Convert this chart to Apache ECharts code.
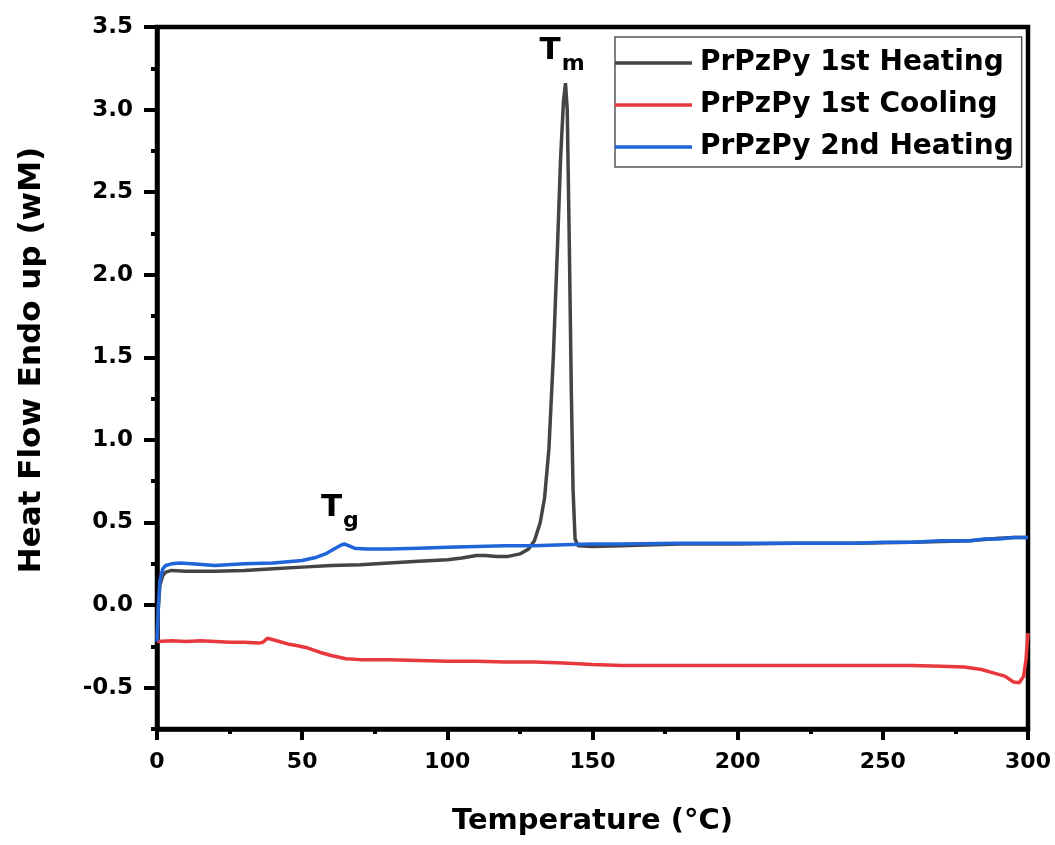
<!DOCTYPE html>
<html>
<head>
<meta charset="utf-8">
<script src="https://cdn.jsdelivr.net/npm/echarts@6/dist/echarts.min.js"></script>
<style>
  html, body { margin: 0; padding: 0; background: #fff; }
  #chart { width: 1055px; height: 845px; }
</style>
</head>
<body>
<div id="chart"></div>
<script>
// 1st heating
const heat1Temp = [0, 0.5, 1, 2, 3, 5, 10, 20, 30, 40, 50, 60, 70, 80, 90, 100, 105, 110, 113, 117, 121, 125, 128, 130, 132, 133.5, 135, 136.5, 138, 139, 140, 140.7, 141.3, 142, 142.7, 143.3, 144, 145, 150, 160, 180, 200, 220, 240, 260, 270, 280, 290, 295, 300];
const heat1Flow = [-0.2, 0.0, 0.12, 0.18, 0.2, 0.21, 0.205, 0.205, 0.21, 0.22, 0.23, 0.24, 0.245, 0.255, 0.265, 0.275, 0.285, 0.3, 0.3, 0.295, 0.295, 0.31, 0.34, 0.39, 0.5, 0.65, 0.95, 1.5, 2.2, 2.7, 3.05, 3.16, 3.0, 2.2, 1.3, 0.7, 0.4, 0.36, 0.355, 0.36, 0.37, 0.37, 0.375, 0.375, 0.38, 0.385, 0.39, 0.405, 0.41, 0.41];

// 1st cooling
const coolTemp = [0, 5, 10, 15, 20, 25, 30, 35, 36.5, 38, 40, 45, 48, 52, 56, 60, 65, 70, 80, 90, 100, 110, 120, 130, 140, 150, 160, 180, 200, 220, 240, 260, 270, 278, 284, 288, 292, 295, 297, 298.5, 299.3, 300];
const coolFlow = [-0.22, -0.215, -0.22, -0.215, -0.22, -0.225, -0.225, -0.23, -0.225, -0.2, -0.21, -0.235, -0.245, -0.26, -0.285, -0.305, -0.325, -0.33, -0.33, -0.335, -0.34, -0.34, -0.345, -0.345, -0.35, -0.36, -0.365, -0.365, -0.365, -0.365, -0.365, -0.365, -0.37, -0.375, -0.39, -0.41, -0.43, -0.465, -0.47, -0.43, -0.33, -0.17];

// 2nd heating
const heat2Temp = [0, 0.5, 1, 2, 3, 5, 8, 12, 20, 30, 40, 50, 55, 58, 61, 63, 64.5, 66, 68, 72, 80, 90, 100, 110, 120, 130, 140, 150, 160, 180, 200, 220, 240, 250, 260, 270, 280, 285, 290, 295, 300];
const heat2Flow = [-0.22, 0.0, 0.15, 0.22, 0.24, 0.25, 0.255, 0.25, 0.24, 0.25, 0.255, 0.27, 0.29, 0.31, 0.34, 0.36, 0.37, 0.36, 0.345, 0.34, 0.34, 0.345, 0.35, 0.355, 0.36, 0.36, 0.365, 0.37, 0.37, 0.375, 0.375, 0.375, 0.375, 0.38, 0.38, 0.39, 0.39, 0.4, 0.4, 0.41, 0.41];

const xTicks = [0, 50, 100, 150, 200, 250, 300];
const yTicks = [-0.5, 0, 0.5, 1, 1.5, 2, 2.5, 3, 3.5];
const seriesNames = ["PrPzPy 1st Heating", "PrPzPy 1st Cooling", "PrPzPy 2nd Heating"];

const pairs = (xs, ys) => xs.map((x, i) => [x, ys[i]]);

const font = "DejaVu Sans";
const chart = echarts.init(document.getElementById("chart"));

const subLabel = (main, sub) => ({
  show: true,
  formatter: "{t|" + main + "}{s|" + sub + "}",
  rich: {
    t: { fontSize: 31, fontWeight: "bold", fontFamily: font, color: "#000", verticalAlign: "bottom", padding: [0, 1, 9, 0] },
    s: { fontSize: 22, fontWeight: "bold", fontFamily: font, color: "#000", verticalAlign: "bottom" },
  },
});

const option = {
  animation: false,
  backgroundColor: "#fff",
  grid: {
    left: 157, right: 27, top: 27, bottom: 116,
    show: true, borderColor: "#000", borderWidth: 4.5,
  },
  legend: {
    data: seriesNames,
    orient: "vertical",
    left: 615, top: 37,
    padding: [12, 8, 6, 0],
    icon: "rect",
    itemWidth: 77, itemHeight: 3.5, itemGap: 14,
    borderColor: "#555", borderWidth: 1.5,
    textStyle: { fontSize: 28, lineHeight: 28, fontWeight: "bold", fontFamily: font, color: "#000", padding: [0, 0, 0, 3] },
  },
  xAxis: {
    type: "value",
    min: 0, max: 300, interval: 50,
    name: "Temperature (°C)",
    nameLocation: "middle",
    nameGap: 78,
    nameTextStyle: { fontSize: 29, fontWeight: "bold", fontFamily: font, color: "#000" },
    axisLine: { show: true, onZero: false, lineStyle: { color: "#000", width: 4.5 } },
    axisTick: { show: true, length: 11, lineStyle: { color: "#000", width: 4 } },
    minorTick: { show: true, splitNumber: 2, length: 5, lineStyle: { color: "#000", width: 4 } },
    axisLabel: {
      fontSize: 22, fontWeight: "bold", fontFamily: font, color: "#000", margin: 22,
      formatter: (v) => (xTicks.includes(v) ? String(v) : ""),
    },
    splitLine: { show: false },
  },
  yAxis: [
    {
      type: "value",
      min: -0.75, max: 3.5, interval: 0.25,
      name: "Heat Flow Endo up (wM)",
      nameLocation: "middle",
      nameGap: 110,
      nameTextStyle: { fontSize: 31, fontWeight: "bold", fontFamily: font, color: "#000", padding: [0, 0, 0, 36] },
      axisLine: { show: true, onZero: false, lineStyle: { color: "#000", width: 4.5 } },
      axisTick: { show: true, length: 13, customValues: yTicks, lineStyle: { color: "#000", width: 4 } },
      axisLabel: {
        fontSize: 23, fontWeight: "bold", fontFamily: font, color: "#000", margin: 24,
        customValues: yTicks,
        formatter: (v) => v.toFixed(1),
      },
      splitLine: { show: false },
    },
    {
      type: "value",
      min: -0.75, max: 3.5, interval: 0.25,
      position: "left",
      axisLine: { show: false },
      axisTick: { show: true, length: 6, lineStyle: { color: "#000", width: 4 } },
      axisLabel: { show: false },
      splitLine: { show: false },
    },
  ],
  series: [
    {
      name: seriesNames[0],
      type: "line",
      symbol: "none",
      data: pairs(heat1Temp, heat1Flow),
      lineStyle: { color: "#444", width: 3.5 },
      itemStyle: { color: "#444" },
      markPoint: {
        symbol: "circle", symbolSize: 1,
        itemStyle: { color: "rgba(0,0,0,0)" },
        label: subLabel("T", "m"),
        data: [{ coord: [139.5, 3.33] }],
      },
    },
    {
      name: seriesNames[1],
      type: "line",
      symbol: "none",
      data: pairs(coolTemp, coolFlow),
      lineStyle: { color: "#e8383d", width: 3.5 },
      itemStyle: { color: "#e8383d" },
    },
    {
      name: seriesNames[2],
      type: "line",
      symbol: "none",
      data: pairs(heat2Temp, heat2Flow),
      lineStyle: { color: "#1f64d8", width: 3.5 },
      itemStyle: { color: "#1f64d8" },
      markPoint: {
        symbol: "circle", symbolSize: 1,
        itemStyle: { color: "rgba(0,0,0,0)" },
        label: subLabel("T", "g"),
        data: [{ coord: [63, 0.56] }],
      },
    },
  ],
};

chart.setOption(option);
</script>
</body>
</html>
